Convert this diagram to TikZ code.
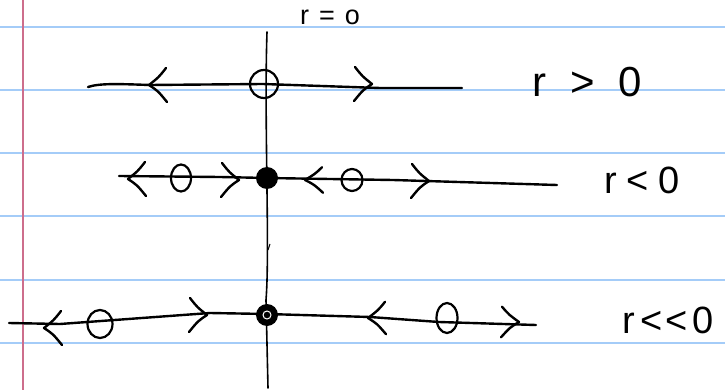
\documentclass[tikz,border=0pt]{standalone}
\usepackage{fontspec}
\setmainfont{Liberation Sans}
\usetikzlibrary{shapes.geometric}
\definecolor{ruleblue}{RGB}{164,204,248}
\definecolor{marginred}{RGB}{205,110,140}
\begin{document}
\begin{tikzpicture}[x=1pt,y=-1pt,
  ink/.style={line width=2.4pt, line cap=round, line join=round, black},
  thin ink/.style={line width=1.6pt, line cap=round, black},
  ruling/.style={line width=1.5pt, ruleblue},
  lbl/.style={inner sep=0pt, font=\fontsize{38}{38}\selectfont},
  theta/.style={ellipse, draw, line width=2.2pt, inner sep=0pt, minimum width=#1},
  lt/.pic={\draw[ink] (8,-17) .. controls (1,-8) .. (-9,0) .. controls (0,6) .. (9,17);},
  gt/.pic={\draw[ink] (-8,-17) .. controls (-1,-8) .. (9,0) .. controls (0,6) .. (-9,17);}
]
\useasboundingbox (0,0) rectangle (725,390);
\fill[white] (0,0) rectangle (725,390);
% paper
\foreach \yy in {27,90,153,216,280,343} \draw[ruling] (0,\yy) -- (725,\yy);
\draw[line width=1.2pt, marginred] (23,0) -- (23,390);
% vertical axis
\coordinate (atop) at (267,32);
\coordinate (abot) at (268,388);
\draw[thin ink] (atop) .. controls (264,120) and (270,250) .. (266,300) -- (abot);
\draw[line width=1pt] (268,250) -- (270,244);
\node[inner sep=0pt, font=\fontsize{27}{27}\selectfont] (r0) at (330,17) {r\hspace{10pt}=\hspace{10pt}o};
% row 1
\coordinate (a1) at (88,87); \coordinate (b1) at (462,88);
\draw[ink] (a1) .. controls (100,83) and (120,84) .. (150,85) -- (263,84) -- (380,88) -- (b1);
\node[circle, draw, line width=2.2pt, minimum size=28pt, inner sep=0pt] (c1) at (264,84) {};
\pic at (158,85) {lt};
\pic at (363,84) {gt};
\node[inner sep=0pt, font=\fontsize{42}{42}\selectfont] (l1) at (587,82) {r\hspace{24pt}>\hspace{24pt}0};
% row 2
\coordinate (a2) at (119,176); \coordinate (b2) at (557,185);
\draw[ink] (a2) -- (220,177) -- (267,178) -- (393,180) -- (b2);
\node[circle, fill, minimum size=22pt, inner sep=0pt] (d2) at (267,178) {};
\pic[scale=1] at (137,179) {lt};
\node[theta=20pt, minimum height=27pt] (t2a) at (181,178) {};
\pic at (230,180) {gt};
\pic[yscale=0.75] at (314,180) {lt};
\node[theta=21pt, minimum height=22pt] (t2b) at (352,180) {};
\pic at (420,181) {gt};
\node[lbl] (l2) at (642,180) {r\hspace{10pt}<\hspace{10pt}0};
% row 3
\coordinate (a3) at (9,323); \coordinate (b3) at (536,325);
\draw[ink] (a3) -- (60,324) -- (210,313) -- (267,314) -- (370,317) -- (439,322) -- (b3);
\node[circle, fill, minimum size=22pt, inner sep=0pt] (d3) at (267,315) {};
\draw[white, line width=1pt] (267,315) circle (4pt);
\pic at (53,328) {lt};
\node[theta=25pt, minimum height=28pt] (t3a) at (100,324) {};
\pic at (198,315) {gt};
\pic[yscale=0.95] at (377,318) {lt};
\node[theta=21pt, minimum height=30pt] (t3b) at (447,318) {};
\pic[yscale=0.9] at (510,322) {gt};
\node[lbl] (l3) at (668,320) {r\hspace{5pt}<\hspace{3pt}<\hspace{5pt}0};
\end{tikzpicture}
\end{document}
